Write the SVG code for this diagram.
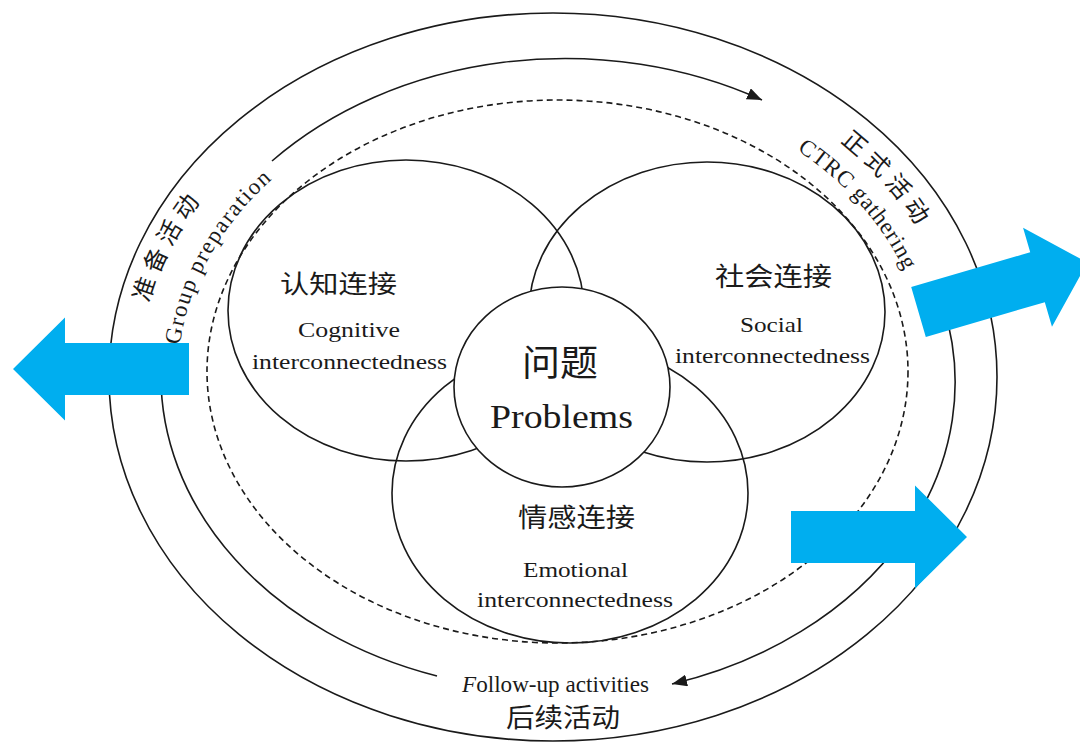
<svg xmlns="http://www.w3.org/2000/svg" width="1080" height="742" viewBox="0 0 1080 742">
<defs>
<style>
.ln{fill:none;stroke:#1a1a1a;stroke-width:1.6}
.dash{fill:none;stroke:#1a1a1a;stroke-width:1.6;stroke-dasharray:6 4}
.en{font-family:"Liberation Serif","Times New Roman",serif;fill:#1a1a1a}
.cn{font-family:"Noto Sans CJK SC","Noto Sans CJK JP",sans-serif;fill:#1a1a1a}
.blue{fill:#00AEEF}
</style>
<marker id="ah" markerUnits="userSpaceOnUse" markerWidth="16" markerHeight="12" refX="15" refY="6" orient="auto"><path d="M0,0 L15,6 L0,12 z" fill="#1a1a1a"/></marker>
<polygon id="bigArrow" points="0,-26 124,-26 124,-51.5 176,0 124,51.5 124,26 0,26"/>
<path id="tpLcn" d="M149,303 A415,335 0 0 1 251,148"/>
<path id="tpLen" d="M180,345 A380,298 0 0 1 322,142"/>
<path id="tpRcn" d="M840,142 A408,334 0 0 1 952,300"/>
<path id="tpRen" d="M797,150 A364,290 0 0 1 916,300"/>
</defs>
<rect width="1080" height="742" fill="#ffffff"/>

<g id="outer-ring">
<ellipse class="ln" cx="553" cy="377" rx="444" ry="364"/>
</g>
<g id="dashed-ring">
<ellipse class="dash" cx="557.5" cy="371.5" rx="350.5" ry="271.5"/>
</g>

<g id="connectors">
<path class="ln" d="M272,161 A397,315 0 0 1 762,100" marker-end="url(#ah)"/>
<path class="ln" d="M943,305 A397,315 0 0 1 672,684" marker-end="url(#ah)"/>
<path class="ln" d="M437,676 A397,315 0 0 1 161,370"/>
</g>

<g id="cognitive">
<ellipse class="ln" cx="406" cy="310.5" rx="178" ry="150.5"/>
<text class="cn" x="280" y="293" font-size="25" textLength="117" lengthAdjust="spacingAndGlyphs">认知连接</text>
<text class="en" x="298" y="337" font-size="22" textLength="102" lengthAdjust="spacingAndGlyphs">Cognitive</text>
<text class="en" x="252" y="369" font-size="22" textLength="195" lengthAdjust="spacingAndGlyphs">interconnectedness</text>
</g>

<g id="social">
<ellipse class="ln" cx="707" cy="312" rx="178" ry="150"/>
<text class="cn" x="715" y="286" font-size="26" textLength="117" lengthAdjust="spacingAndGlyphs">社会连接</text>
<text class="en" x="740" y="332" font-size="22" textLength="63" lengthAdjust="spacingAndGlyphs">Social</text>
<text class="en" x="675" y="363" font-size="22" textLength="195" lengthAdjust="spacingAndGlyphs">interconnectedness</text>
</g>

<g id="emotional">
<ellipse class="ln" cx="570" cy="493" rx="178" ry="150"/>
<text class="cn" x="518" y="527" font-size="26" textLength="117" lengthAdjust="spacingAndGlyphs">情感连接</text>
<text class="en" x="523" y="577" font-size="22" textLength="105" lengthAdjust="spacingAndGlyphs">Emotional</text>
<text class="en" x="477" y="607" font-size="22" textLength="196" lengthAdjust="spacingAndGlyphs">interconnectedness</text>
</g>

<g id="problems">
<ellipse cx="562" cy="387" rx="108" ry="100" fill="#ffffff" stroke="#1a1a1a" stroke-width="1.6"/>
<text class="cn" x="522" y="376" font-size="36" textLength="76" lengthAdjust="spacingAndGlyphs">问题</text>
<text class="en" x="490" y="428" font-size="34" textLength="143" lengthAdjust="spacingAndGlyphs">Problems</text>
</g>

<g id="preparation-label">
<text class="cn" font-size="24" letter-spacing="6"><textPath href="#tpLcn">准备活动</textPath></text>
<text class="en" font-size="23" letter-spacing="1.5"><textPath href="#tpLen">Group preparation</textPath></text>
</g>

<g id="gathering-label">
<text class="cn" font-size="24" letter-spacing="6"><textPath href="#tpRcn">正式活动</textPath></text>
<text class="en" font-size="23" letter-spacing="0.8"><textPath href="#tpRen">CTRC gathering</textPath></text>
</g>

<g id="followup-label">
<text class="en" x="462" y="692" font-size="24" textLength="187" lengthAdjust="spacingAndGlyphs"><tspan font-style="italic">F</tspan>ollow-up activities</text>
<text class="cn" x="506" y="727" font-size="26" textLength="114" lengthAdjust="spacingAndGlyphs">后续活动</text>
</g>

<g id="blue-arrows" class="blue">
<use href="#bigArrow" transform="translate(189,369) rotate(180)"/>
<use href="#bigArrow" transform="translate(918.5,312) rotate(-16.3)"/>
<use href="#bigArrow" transform="translate(791,537)"/>
</g>
</svg>
